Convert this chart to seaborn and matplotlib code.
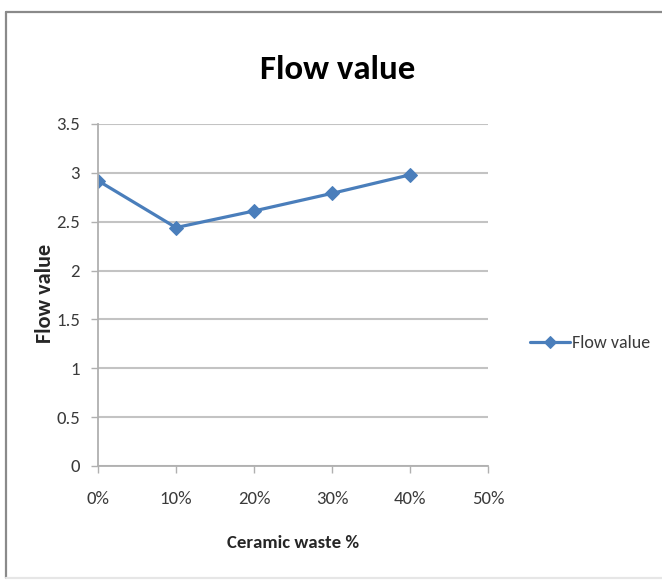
import matplotlib
matplotlib.use("Agg")
import matplotlib.pyplot as plt
from matplotlib.ticker import PercentFormatter, MultipleLocator
from matplotlib.lines import Line2D
import seaborn as sns
import pandas as pd

# Flow value measured for each ceramic waste replacement level
ceramic_waste = [0.0, 0.10, 0.20, 0.30, 0.40]
flow_value = [2.92, 2.44, 2.61, 2.79, 2.98]
series_name = "Flow value"
chart_title = "Flow value"
x_title = "Ceramic waste %"
y_title = "Flow value"

df = pd.DataFrame({x_title: ceramic_waste, series_name: flow_value})

sns.set_theme(style="white")
plt.rcParams["font.family"] = ["Carlito", "Open Sans", "DejaVu Sans"]

W, H = 662, 586
fig = plt.figure(figsize=(W / 100, H / 100), dpi=100)
ax = fig.add_axes([98 / W, 1 - 466 / H, 390 / W, 342 / H])

line_color = "#4A7EBB"
sns.lineplot(data=df, x=x_title, y=series_name, ax=ax,
             color=line_color, linewidth=2.3, marker="D", markersize=7.5,
             markeredgecolor=line_color, label=series_name)

ax.set_xlim(0, 0.5)
ax.set_ylim(0, 3.5)
ax.xaxis.set_major_locator(MultipleLocator(0.1))
ax.yaxis.set_major_locator(MultipleLocator(0.5))
ax.xaxis.set_major_formatter(PercentFormatter(xmax=1, decimals=0))
ax.yaxis.set_major_formatter(lambda v, p: f"{v:g}")

grid_color = "#C3C3C3"
ax.grid(axis="y", color=grid_color, linewidth=1.5)
ax.set_axisbelow(True)
for side in ("top", "right"):
    ax.spines[side].set_visible(False)
for side in ("left", "bottom"):
    ax.spines[side].set_color("#B0B0B0")
    ax.spines[side].set_linewidth(1.3)

ax.tick_params(axis="both", which="major", direction="out", length=5,
               width=1.0, color="#B0B0B0", labelsize=13.5, labelcolor="#3A3A3A",
               bottom=True, left=True)
ax.tick_params(axis="x", pad=13)
ax.tick_params(axis="y", pad=8)

ax.set_xlabel(x_title, fontsize=13.5, fontweight="bold", color="#262626")
ax.xaxis.set_label_coords(0.5, (466 - 543) / 342)
ax.xaxis.label.set_verticalalignment("center")
ax.set_ylabel(y_title, fontsize=16, fontweight="bold", color="#262626")
ax.yaxis.set_label_coords((45 - 98) / 390, (466 - 293) / 342)
ax.yaxis.label.set_verticalalignment("center")

fig.text(338 / W, 1 - 79 / H, chart_title, ha="center", va="baseline",
         fontsize=25, fontweight="bold", color="black")

leg = ax.legend(loc="center left", bbox_to_anchor=((530 - 98) / 390, (466 - 343) / 342),
                frameon=False, fontsize=13, handlelength=2.2, handletextpad=0.1,
                borderaxespad=0, borderpad=0, markerscale=0.8)
for t in leg.get_texts():
    t.set_color("#3A3A3A")

# Chart area border
fig.add_artist(Line2D([6 / W, 1.0], [1 - 12 / H, 1 - 12 / H], transform=fig.transFigure,
                      color="#8A8A8A", linewidth=1.6))
fig.add_artist(Line2D([6 / W, 6 / W], [1 - 12 / H, 1 - 578 / H], transform=fig.transFigure,
                      color="#8A8A8A", linewidth=1.6))
fig.add_artist(Line2D([6 / W, 1.0], [1 - 578 / H, 1 - 578 / H], transform=fig.transFigure,
                      color="#E6E6E6", linewidth=1.6))

fig.savefig("out.png", dpi=100)
